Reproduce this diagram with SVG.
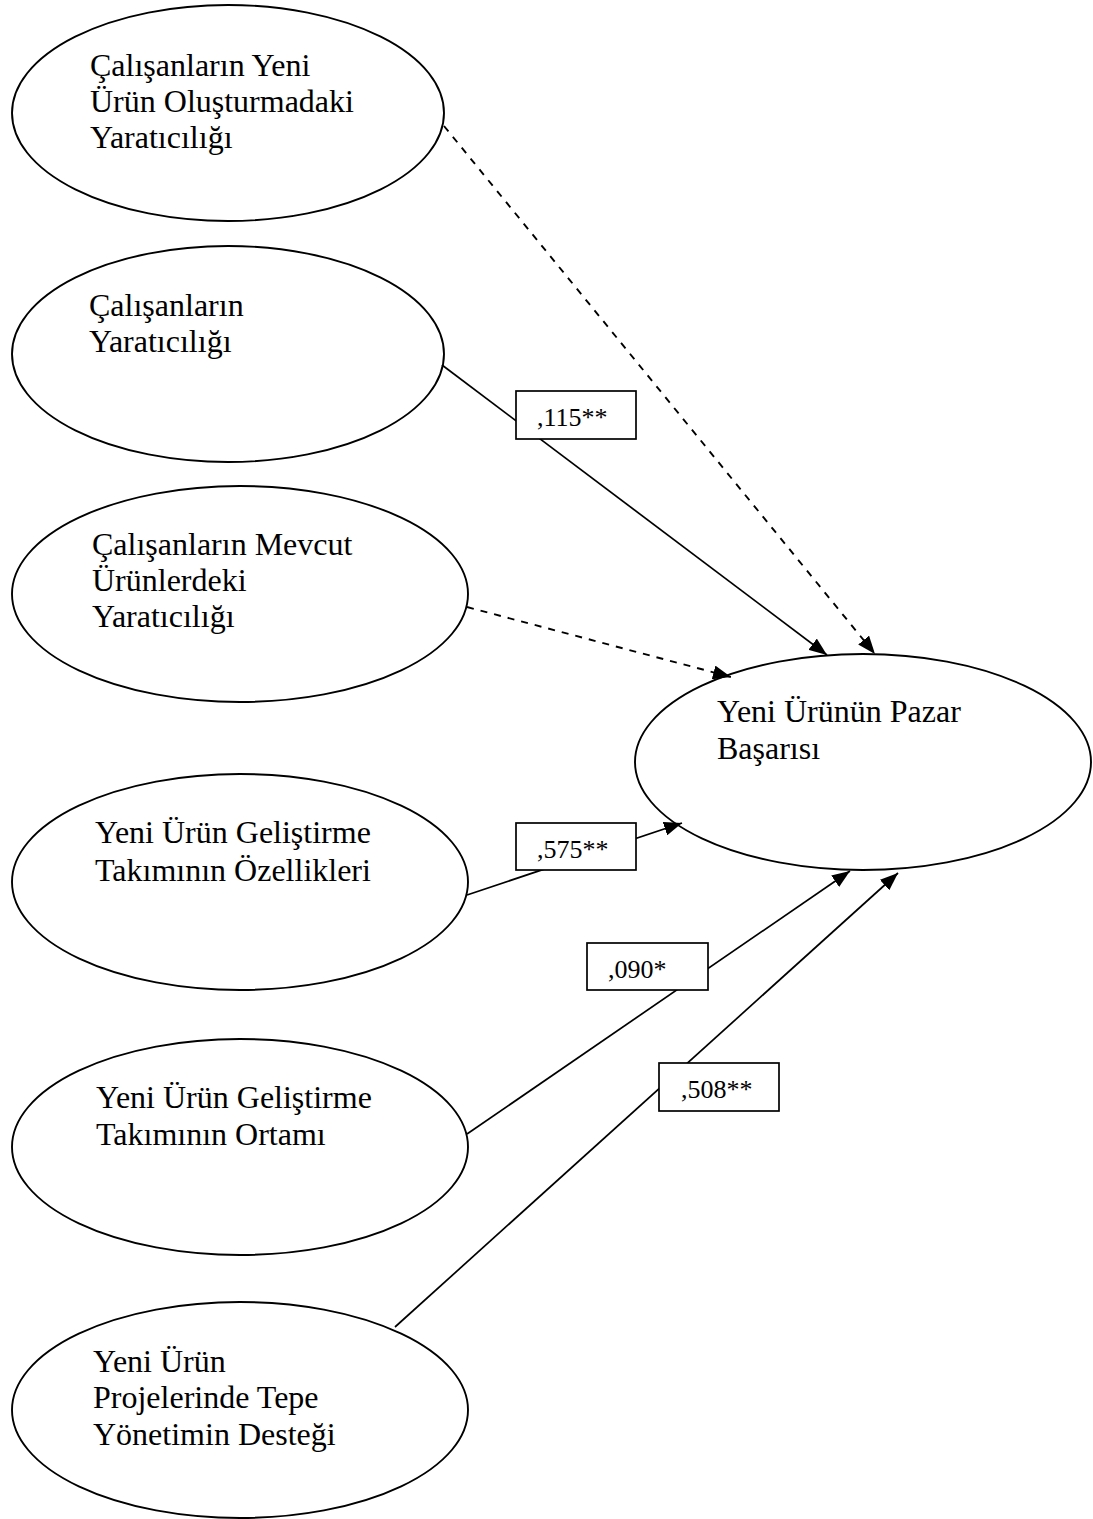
<svg xmlns="http://www.w3.org/2000/svg" width="1093" height="1519" viewBox="0 0 1093 1519">
<style>
.node ellipse{fill:#fff;stroke:#000;stroke-width:1.9}
.node text{font-family:"Liberation Serif","Times New Roman",serif;font-size:32px;fill:#000}
.conn line{stroke:#000;stroke-width:1.7;fill:none}
.conn .dash{stroke-dasharray:7 7;stroke-width:1.9}
.lbl rect{fill:#fff;stroke:#000;stroke-width:1.7}
.lbl text{font-family:"Liberation Serif","Times New Roman",serif;font-size:26px;fill:#000}
</style>
<defs>
<marker id="ah" markerUnits="userSpaceOnUse" markerWidth="18" markerHeight="14" refX="18" refY="7" orient="auto">
<path d="M0,0 L18,7 L0,14 z" fill="#000"/>
</marker>
</defs>
<rect width="1093" height="1519" fill="#fff"/>
<g id="n1" class="node">
<ellipse cx="228" cy="113" rx="216" ry="108"/>
<text x="90" y="76">Çalışanların Yeni</text>
<text x="90" y="112">Ürün Oluşturmadaki</text>
<text x="90" y="148">Yaratıcılığı</text>
</g>
<g id="n2" class="node">
<ellipse cx="228" cy="354" rx="216" ry="108"/>
<text x="89" y="316">Çalışanların</text>
<text x="89" y="352">Yaratıcılığı</text>
</g>
<g id="n3" class="node">
<ellipse cx="240" cy="594" rx="228" ry="108"/>
<text x="92" y="555">Çalışanların Mevcut</text>
<text x="92" y="591">Ürünlerdeki</text>
<text x="92" y="627">Yaratıcılığı</text>
</g>
<g id="n4" class="node">
<ellipse cx="240" cy="882" rx="228" ry="108"/>
<text x="95" y="843">Yeni Ürün Geliştirme</text>
<text x="95" y="881">Takımının Özellikleri</text>
</g>
<g id="n5" class="node">
<ellipse cx="240" cy="1147" rx="228" ry="108"/>
<text x="96" y="1108">Yeni Ürün Geliştirme</text>
<text x="96" y="1145">Takımının Ortamı</text>
</g>
<g id="n6" class="node">
<ellipse cx="240" cy="1410" rx="228" ry="108"/>
<text x="93" y="1372">Yeni Ürün</text>
<text x="93" y="1408">Projelerinde Tepe</text>
<text x="93" y="1445">Yönetimin Desteği</text>
</g>
<g id="target" class="node">
<ellipse cx="863" cy="762" rx="228" ry="108"/>
<text x="717" y="722">Yeni Ürünün Pazar</text>
<text x="717" y="759">Başarısı</text>
</g>
<g id="connectors" class="conn">
<line class="dash" x1="444" y1="126" x2="875" y2="654" marker-end="url(#ah)"/>
<line x1="442" y1="365" x2="827" y2="655" marker-end="url(#ah)"/>
<line class="dash" x1="467" y1="607" x2="731" y2="677" marker-end="url(#ah)"/>
<line x1="467" y1="895" x2="682" y2="823" marker-end="url(#ah)"/>
<line x1="467" y1="1134" x2="850" y2="871" marker-end="url(#ah)"/>
<line x1="395" y1="1327" x2="898" y2="873" marker-end="url(#ah)"/>
</g>
<g id="labels" class="lbl">
<g id="l1"><rect x="516" y="391" width="120" height="48"/><text x="537" y="426">,115**</text></g>
<g id="l2"><rect x="516" y="823" width="120" height="47"/><text x="537" y="858">,575**</text></g>
<g id="l3"><rect x="587" y="943" width="121" height="47"/><text x="608" y="978">,090*</text></g>
<g id="l4"><rect x="659" y="1063" width="120" height="48"/><text x="681" y="1098">,508**</text></g>
</g>
</svg>
